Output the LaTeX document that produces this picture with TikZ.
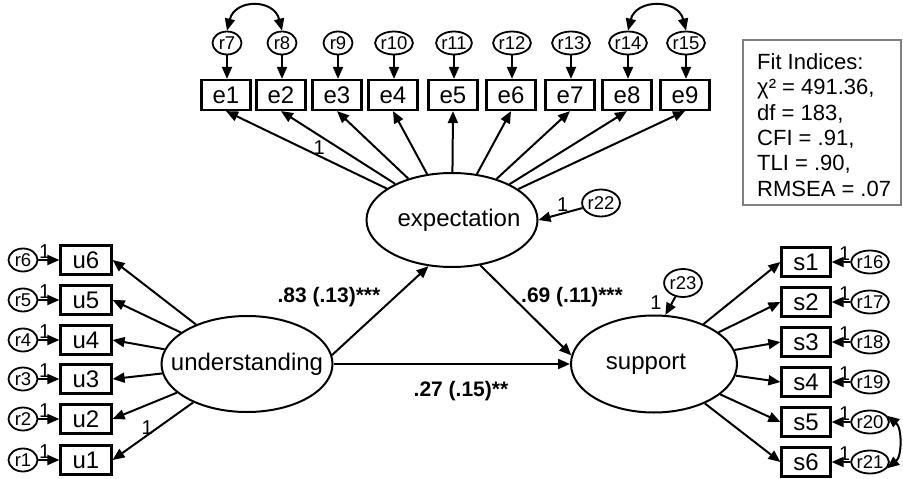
\documentclass[tikz,border=0pt]{standalone}
\usepackage{fontspec}
\setmainfont{Liberation Sans}
\usetikzlibrary{arrows.meta,shapes.geometric}
\begin{document}
\begin{tikzpicture}[x=1pt,y=-1pt,
  every node/.style={inner sep=0pt},
  obs/.style={draw, rectangle, line width=2.2pt, minimum width=49pt, minimum height=30pt, font=\fontsize{24}{28}\selectfont},
  lat/.style={draw, ellipse, line width=2pt, font=\fontsize{24}{28}\selectfont},
  err/.style={draw, ellipse, line width=1.8pt, minimum width=29pt, minimum height=23pt, font=\fontsize{18.5}{20}\selectfont},
  arr/.style={line width=2pt, -{Triangle[length=12pt,width=10pt]}},
  darr/.style={line width=2pt, {Triangle[length=12pt,width=10pt]}-{Triangle[length=12pt,width=10pt]}},
  one/.style={font=\fontsize{20}{22}\selectfont, inner sep=1pt},
  coef/.style={font=\bfseries\fontsize{21}{24}\selectfont},
  fitline/.style={font=\fontsize{22}{25}\selectfont, anchor=base west}
]
\fill[white] (0,0) rectangle (903,479);
\useasboundingbox (0,0) rectangle (903,479);

% latent variables
\node[lat, minimum width=171pt, minimum height=94pt] (expectation) at (452,220) {\makebox[0pt]{\hspace*{14pt}expectation}};
\node[lat, minimum width=171pt, minimum height=96pt] (understanding) at (247,364) {\makebox[0pt]{understanding}};
\node[lat, minimum width=166pt, minimum height=97pt] (support) at (654,364) {\makebox[0pt]{support\hspace*{16pt}}};

% expectation indicators
\foreach \n/\r/\x in {1/7/226,2/8/281,3/9/337,4/10/393,5/11/453,6/12/511,7/13/570,8/14/627,9/15/685}{
  \node[obs] (e\n) at (\x,95) {e\n};
  \node[err] (r\r) at (\x+1,43) {r\r};
  \draw[arr] (r\r.south) -- (r\r.south |- e\n.north);
}
\draw[arr] (expectation) -- (e1.south) node[one, pos=0.42, above] {1};
\foreach \n in {2,...,9}{
  \draw[arr] (expectation) -- (e\n.south);
}
\draw[darr] (r7.north) .. controls +(8,-32) and +(-8,-32) .. (r8.north);
\draw[darr] (r14.north) .. controls +(8,-32) and +(-8,-32) .. (r15.north);

% understanding indicators
\foreach \n/\y in {1/460,2/419,3/379,4/340,5/300,6/260}{
  \node[obs, minimum width=51pt, minimum height=29pt] (u\n) at (86,\y) {u\n};
  \node[err] (r\n) at (23,\y) {r\n};
  \draw[arr] (r\n.east) -- (u\n.west) node[one, pos=0.3, above] {1};
}
\draw[arr] (understanding) -- (u1.east) node[one, pos=0.57, above, inner sep=0pt] {1};
\foreach \n in {2,...,6}{
  \draw[arr] (understanding) -- (u\n.east);
}

% support indicators
\foreach \n/\r/\y in {1/16/262,2/17/302,3/18/342,4/19/382,5/20/422,6/21/462}{
  \node[obs, minimum height=29pt] (s\n) at (806,\y) {s\n};
  \node[err] (r\r) at (870,\y) {r\r};
  \draw[arr] (r\r.west) -- (s\n.east) node[one, pos=0.3, above] {1};
  \draw[arr] (support) -- (s\n.west);
}
\draw[darr] (r20.20) .. controls +(15,12) and +(15,-12) .. (r21.-20);

% disturbances
\node[err, minimum width=30pt, minimum height=27pt] (r22) at (601,203) {r22};
\draw[arr] (r22) -- (expectation.east) node[one, pos=0.45, above] {1};
\node[err, minimum width=30pt, minimum height=28pt] (r23) at (683,283) {r23};
\draw[arr] (r23) -- (support.77) node[one, pos=0.3, left=9pt] {1};

% structural paths
\draw[arr] (understanding.6) -- (expectation.243);
\draw[arr] (expectation.-58) -- (support.174);
\draw[arr] (understanding.east) -- (support.west);
\node[coef] (c1) at (329,297) {.83 (.13)***};
\node[coef] (c2) at (572,297) {.69 (.11)***};
\node[coef] (c3) at (461,391) {.27 (.15)**};

% fit indices
\draw[line width=1.6pt, draw=black!50] (743,40) rectangle (901,205);
\node[fitline] (f1) at (757,69) {Fit Indices:};
\node[fitline] (f2) at (757,94.5) {χ² = 491.36,};
\node[fitline] (f3) at (757,120) {df = 183,};
\node[fitline] (f4) at (757,145) {CFI = .91,};
\node[fitline] (f5) at (757,170.5) {TLI = .90,};
\node[fitline] (f6) at (757,196) {RMSEA = .07};
\end{tikzpicture}
\end{document}
